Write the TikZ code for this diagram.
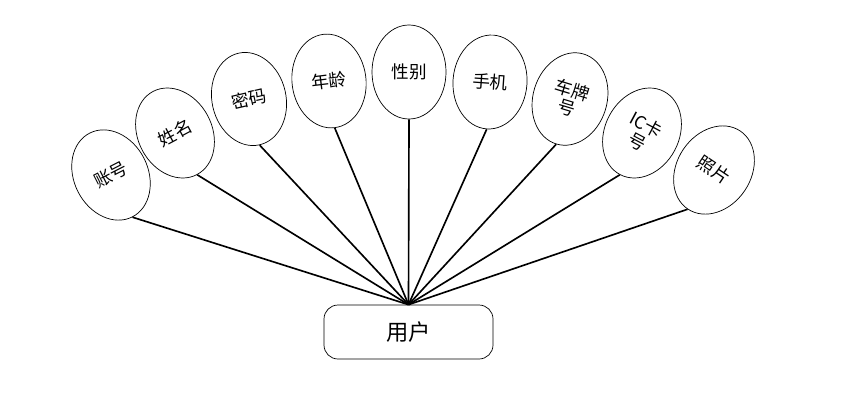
\documentclass[tikz,border=0pt]{standalone}
\usepackage{fontspec}
\newfontfamily\cjk{Noto Sans CJK SC}
\usetikzlibrary{shapes.geometric}
\tikzset{
  % attribute ellipses, tilted so that they fan out round the entity
  attr/.style   = {ellipse, draw, line width=0.6pt, minimum width=2.22cm,
                   minimum height=2.82cm, inner sep=0pt, align=center,
                   font=\cjk\fontsize{15}{16}\selectfont},
  entity/.style = {rectangle, draw, line width=0.6pt, rounded corners=0.42cm,
                   minimum width=5.07cm, minimum height=1.62cm,
                   font=\cjk\fontsize{19}{21}\selectfont},
  link/.style   = {line width=1.4pt, black},
}

\begin{document}
\begin{tikzpicture}[x=0.03cm, y=-0.03cm]
  \useasboundingbox (0,0) rectangle (848,413);
  % entity
  \node[entity] (yonghu) at (408.5,332) {用户};
  % attributes
  \node[attr, rotate=27]  (zhanghao) at (111,175) {账号};
  \node[attr, rotate=28]  (xingming) at (175,133) {姓名};
  \node[attr, rotate=13]  (mima)     at (249,99)  {密码};
  \node[attr, rotate=7]   (nianling) at (329,81)  {年龄};
  \node[attr]             (xingbie)  at (409,72)  {性别};
  \node[attr, rotate=-4]  (shouji)   at (490,82)  {手机};
  \node[attr, rotate=-17] (chepai)   at (570,99)  {车牌\\号};
  \node[attr, rotate=-28] (ickahao)  at (642,133) {IC卡\\号};
  \node[attr, rotate=-34] (zhaopian) at (714,170) {照片};
  % links to the entity
  \foreach \a in {zhanghao, xingming, mima, nianling, xingbie,
                  shouji, chepai, ickahao, zhaopian}
    \draw[link] (\a.south) -- (yonghu.north);
\end{tikzpicture}
\end{document}
